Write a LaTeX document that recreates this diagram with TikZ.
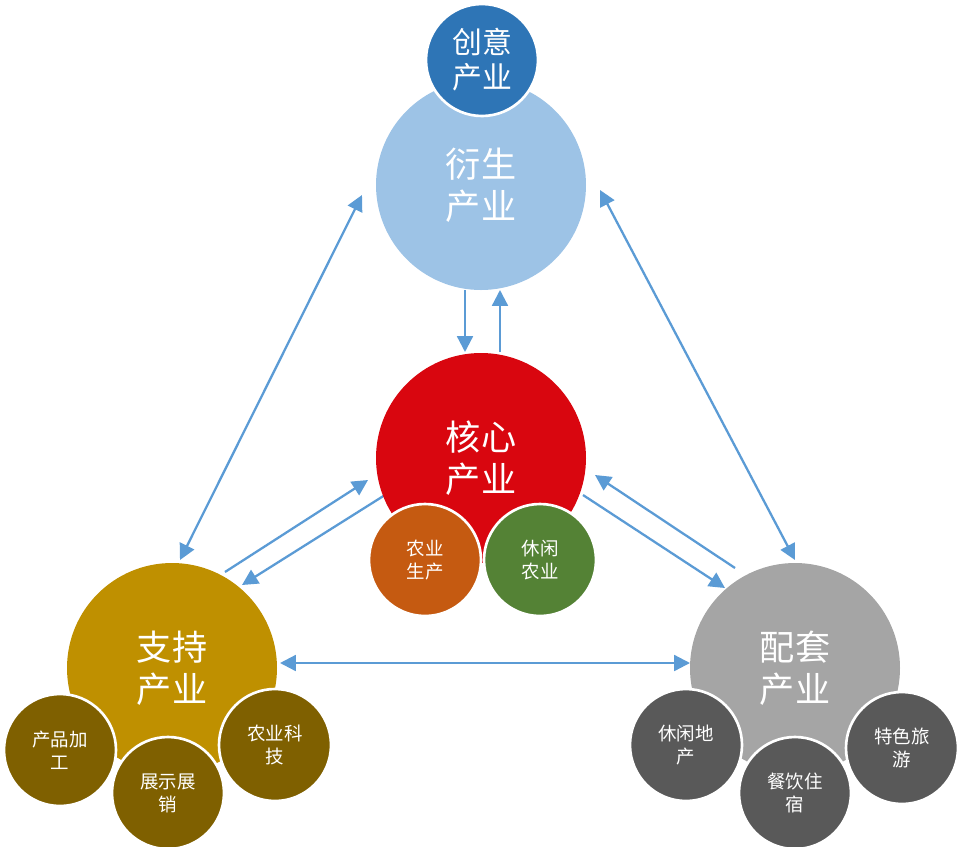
\documentclass[tikz,border=0pt]{standalone}
\usepackage{fontspec}
\newfontfamily\cjk{Noto Sans CJK SC}
\usetikzlibrary{arrows.meta}
\definecolor{arrowblue}{HTML}{5B9BD5}
\definecolor{lightblue}{HTML}{9DC3E6}
\definecolor{darkblue}{HTML}{2E75B6}
\definecolor{corered}{HTML}{D9060F}
\definecolor{orangec}{HTML}{C55A11}
\definecolor{greenc}{HTML}{548235}
\definecolor{goldc}{HTML}{BF9000}
\definecolor{browns}{HTML}{7F6000}
\definecolor{grayc}{HTML}{A5A5A5}
\definecolor{darkgray}{HTML}{595959}
\tikzset{
  bigc/.style={circle, minimum size=210*0.02cm, inner sep=0pt, text=white,
    align=center, font=\cjk\fontsize{20}{24}\selectfont},
  smallc/.style={circle, minimum size=112*0.02cm, inner sep=0pt, text=white,
    align=center, draw=white, line width=1.5pt, font=\cjk\fontsize{10.5}{13}\selectfont},
  link/.style={arrowblue, line width=1.3pt, -{Triangle[length=9pt,width=9pt]}},
  dlink/.style={link, {Triangle[length=9pt,width=9pt]}-{Triangle[length=9pt,width=9pt]}}
}
\begin{document}
\begin{tikzpicture}[x=0.02cm,y=-0.02cm]
\useasboundingbox (0,0) rectangle (974,846);
% connector end points
\coordinate (l1) at (362,195); \coordinate (l2) at (180,560);
\coordinate (r1) at (600,190); \coordinate (r2) at (795,560);
\coordinate (h1) at (280,663); \coordinate (h2) at (690,663);
\coordinate (v1) at (465,290); \coordinate (v2) at (465,352);
\coordinate (v3) at (500,352); \coordinate (v4) at (500,290);
\coordinate (a1) at (225,572); \coordinate (a2) at (368,480);
\coordinate (a3) at (385,495); \coordinate (a4) at (242,585);
\coordinate (b1) at (583,495); \coordinate (b2) at (725,588);
\coordinate (b3) at (735,568); \coordinate (b4) at (595,475);
\draw[dlink] (l1) -- (l2);
\draw[dlink] (r1) -- (r2);
\draw[dlink] (h1) -- (h2);
\draw[link] (v1) -- (v2);
\draw[link] (v3) -- (v4);
\draw[link] (a1) -- (a2);
\draw[link] (a3) -- (a4);
\draw[link] (b1) -- (b2);
\draw[link] (b3) -- (b4);
% circles
\node[bigc, fill=lightblue] (derived) at (481,185) {衍生\\产业};
\node[smallc, fill=darkblue, font=\cjk\fontsize{17}{20}\selectfont] (creative) at (482,60) {创意\\产业};
\node[bigc, fill=corered] (core) at (481,458) {核心\\产业};
\node[smallc, fill=orangec] (farm) at (425,560) {农业\\生产};
\node[smallc, fill=greenc] (leisure) at (540,560) {休闲\\农业};
\node[bigc, fill=goldc] (support) at (172,668) {支持\\产业};
\node[smallc, fill=browns] (process) at (60,750) {产品加\\工};
\node[smallc, fill=browns] (tech) at (275,745) {农业科\\技};
\node[smallc, fill=browns] (show) at (168,793) {展示展\\销};
\node[bigc, fill=grayc] (matching) at (795,668) {配套\\产业};
\node[smallc, fill=darkgray] (estate) at (686,745) {休闲地\\产};
\node[smallc, fill=darkgray] (tour) at (902,748) {特色旅\\游};
\node[smallc, fill=darkgray] (food) at (795,793) {餐饮住\\宿};
\end{tikzpicture}
\end{document}
